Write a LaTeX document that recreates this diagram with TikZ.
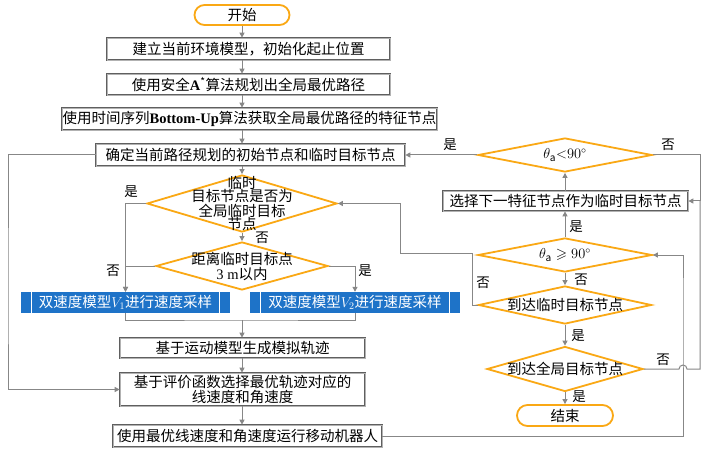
\documentclass[tikz,border=0pt]{standalone}
\usepackage{fontspec}
\usepackage{amssymb}
\setmainfont{Noto Sans CJK SC}
\newfontfamily\lat{Liberation Serif}
\usetikzlibrary{shapes.geometric,shapes.misc,arrows.meta,calc}
\definecolor{orng}{RGB}{250,168,20}
\definecolor{blu}{RGB}{30,115,200}
\definecolor{ln}{RGB}{135,135,135}
\definecolor{bd}{RGB}{95,95,95}
\begin{document}
\begin{tikzpicture}[x=1pt,y=-1pt,
  every node/.style={font=\fontsize{14.5}{15}\selectfont, inner sep=0pt},
  term/.style={rounded rectangle, draw=orng, line width=1.8pt},
  proc/.style={rectangle, draw=bd, line width=0.7pt, double=black!30, double distance=0.5pt, fill=white},
  dec/.style={diamond, draw=orng, line width=1.8pt},
  bluebox/.style={rectangle, fill=blu, text=white},
  conn/.style={draw=ln, line width=1pt},
  arr/.style={conn, -{Triangle[length=5pt,width=5pt]}},
  lab/.style={font=\fontsize{13.5}{14}\selectfont}
]
\useasboundingbox[fill=white] (0,0) rectangle (709,473);

% left column
\node[term, minimum width=95pt, minimum height=20pt] (start) at (242,15) {开始};
\node[proc, minimum width=283pt, minimum height=22pt] (b1) at (248.5,49) {建立当前环境模型，初始化起止位置};
\node[proc, minimum width=283pt, minimum height=21pt] (b2) at (248.5,84.5) {使用安全{\lat\bfseries A}\textsuperscript{*}算法规划出全局最优路径};
\node[proc, minimum width=375pt, minimum height=22pt] (b3) at (249.5,119) {使用时间序列{\lat\bfseries Bottom-Up}算法获取全局最优路径的特征节点};
\node[proc, minimum width=309pt, minimum height=22pt] (b4) at (250.5,155) {确定当前路径规划的初始节点和临时目标节点};
\node[dec, minimum width=190pt, minimum height=57pt] (d1) at (242,203.5) {};
\node[align=center, font=\fontsize{14.5}{13.5}\selectfont] (d1t) at (242,203.5) {临时\\目标节点是否为\\全局临时目标\\节点};
\node[dec, minimum width=172pt, minimum height=48pt] (d2) at (242,266) {};
\node[align=center] (d2t) at (242,266) {距离临时目标点\\{\lat 3 m}以内};
\node[bluebox, minimum width=209pt, minimum height=21pt] (bl) at (125.5,302.5) {双速度模型$V_1$进行速度采样};
\node[bluebox, minimum width=210pt, minimum height=21pt] (br) at (355,302.5) {双速度模型$V_2$进行速度采样};
\foreach \n in {bl,br}{
  \draw[white, line width=1.2pt] ($(\n.north west)+(11,0)$) -- ($(\n.south west)+(11,0)$);
  \draw[white, line width=1.2pt] ($(\n.north east)+(-11,0)$) -- ($(\n.south east)+(-11,0)$);
}
\node[proc, minimum width=245pt, minimum height=20pt] (b5) at (242.5,348) {基于运动模型生成模拟轨迹};
\node[proc, minimum width=245pt, minimum height=33pt, align=center] (b6) at (242.5,389.5) {基于评价函数选择最优轨迹对应的\\线速度和角速度};
\node[proc, minimum width=269pt, minimum height=22pt] (b7) at (247.5,436) {使用最优线速度和角速度运行移动机器人};

% right column
\node[dec, minimum width=174pt, minimum height=34pt] (d3) at (565,155) {};
\node (d3t) at (565,155) {$\theta_{\mathrm{a}}{<}90^\circ$};
\node[proc, minimum width=245pt, minimum height=20pt] (b8) at (565.5,201) {选择下一特征节点作为临时目标节点};
\node[dec, minimum width=174pt, minimum height=34pt] (d4) at (565,255) {};
\node (d4t) at (565,255) {$\theta_{\mathrm{a}}\geqslant 90^\circ$};
\node[dec, minimum width=173pt, minimum height=38pt] (d5) at (565,305) {};
\node (d5t) at (565,305) {到达临时目标节点};
\node[dec, minimum width=156pt, minimum height=45pt] (d6) at (565,369) {};
\node (d6t) at (565,369) {到达全局目标节点};
\node[term, minimum width=96pt, minimum height=21pt] (end) at (565,415.5) {结束};

% coordinates
\coordinate (j) at (242,320);
\coordinate (lx) at (8,300);
\coordinate (rx1) at (683,300);
\coordinate (rx2) at (700,300);
\coordinate (m1) at (472,253);
\coordinate (m2) at (400,203.5);

% connectors left
\draw[arr] (start.south) -- (start |- b1.north);
\draw[arr] (start |- b1.south) -- (start |- b2.north);
\draw[arr] (start |- b2.south) -- (start |- b3.north);
\draw[arr] (start |- b3.south) -- (start |- b4.north);
\draw[arr] (start |- b4.south) -- (d1.north);
\draw[arr] (d1.south) -- (d2.north);
\draw[arr] (d1.west) -| (bl.north);
\draw[arr] (d2.west) -| (bl.north);
\draw[arr] (d2.east) -| (br.north);
\draw[conn] (bl.south) |- (j) -| (br.south);
\draw[arr] (j) -- (j |- b5.north);
\draw[arr] (j |- b5.south) -- (j |- b6.north);
\draw[arr] (j |- b6.south) -- (j |- b7.north);
\draw[arr] (b4.west) -| (lx) |- (b6.west);

% connectors right
\draw[arr] (b7.east) -| (rx1) |- (d4.east);
\draw[conn] (d6.east) -- ($(rx1 |- d6.east)+(-4,0)$) arc[start angle=180, end angle=0, radius=4pt] -- (rx2 |- d6.east) -- (rx2 |- b8.east);
\draw[arr] (d3.east) -| (rx2 |- b8.east) -- (b8.east);
\draw[arr] (d3.west) -- (b4.east);
\draw[arr] (d3.south |- b8.north) -- (d3.south);
\draw[arr] (d4.north) -- (d4.north |- b8.south);
\draw[arr] (d4.south) -- (d5.north);
\draw[arr] (d5.west) -| (m1) -| (m2) -- (d1.east);
\draw[arr] (d5.south) -- (d6.north);
\draw[arr] (d6.south) -- (end.north);

% labels
\node[lab] (l1) at (131,192) {是};
\node[lab] (l2) at (262,238) {否};
\node[lab] (l3) at (113,271) {否};
\node[lab] (l4) at (365,271) {是};
\node[lab] (l5) at (450,145) {是};
\node[lab] (l6) at (668,145) {否};
\node[lab] (l7) at (576,227) {是};
\node[lab] (l8) at (581,280) {否};
\node[lab] (l9) at (483,283) {否};
\node[lab] (l10) at (578,336) {是};
\node[lab] (l11) at (663,360) {否};
\node[lab] (l12) at (579,397) {是};
\end{tikzpicture}
\end{document}
